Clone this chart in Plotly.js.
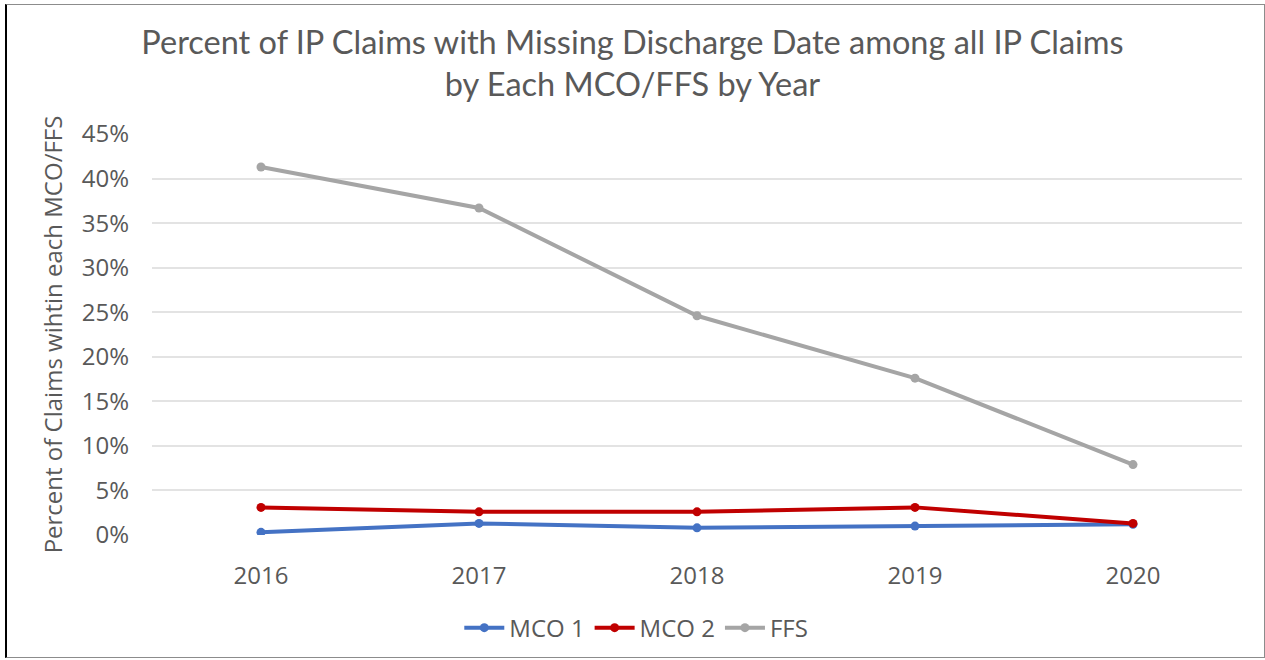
<!DOCTYPE html>
<html>
<head>
<meta charset="utf-8">
<script src="https://cdn.plot.ly/plotly-3.0.1.min.js"></script>
<style>
  html, body { margin: 0; padding: 0; background: #fff; }
  #chart { width: 1265px; height: 660px; }
  #frame {
    position: absolute; left: 5px; top: 4px; width: 1257px; height: 652px;
    border-top: 1px solid #8c8c8c; border-right: 1px solid #8c8c8c;
    border-bottom: 1px solid #8c8c8c; border-left: 2px solid #000;
    pointer-events: none;
  }
</style>
</head>
<body>
<div id="chart"></div>
<div id="frame"></div>
<script>
// Share of inpatient claims with a missing discharge date, by payer and year
const years = ['2016', '2017', '2018', '2019', '2020'];
const mco1 = [0.003, 0.013, 0.008, 0.010, 0.012];
const mco2 = [0.031, 0.026, 0.026, 0.031, 0.013];
const ffs  = [0.413, 0.367, 0.246, 0.176, 0.079];
const yTicks = [0, 0.05, 0.10, 0.15, 0.20, 0.25, 0.30, 0.35, 0.40, 0.45];

const textColor = '#595959';
const baseFont = 'Open Sans, DejaVu Sans, sans-serif';

function series(name, values, color) {
  return {
    type: 'scatter', mode: 'lines+markers', name: name,
    x: years, y: values,
    line: { color: color, width: 4 },
    marker: { color: color, size: 9 },
    hovertemplate: '%{x}: %{y:.1%}<extra>' + name + '</extra>'
  };
}

const data = [
  series('MCO 1', mco1, '#4472C4'),
  series('MCO 2', mco2, '#C00000'),
  series('FFS', ffs, '#A5A5A5')
];

const layout = {
  width: 1265, height: 660,
  paper_bgcolor: '#fff', plot_bgcolor: '#fff',
  margin: { l: 152, r: 23, t: 134, b: 125, autoexpand: false },
  title: {
    text: 'Percent of IP Claims with Missing Discharge Date among all IP Claims<br>by Each MCO/FFS by Year',
    font: { family: 'Lato, Open Sans, sans-serif', size: 32.5, color: textColor },
    x: 0.5, xanchor: 'center', xref: 'container',
    y: 1 - 54 / 660, yanchor: 'middle', yref: 'container'
  },
  font: { family: baseFont, color: textColor, size: 24 },
  xaxis: {
    type: 'category', range: [-0.5, 4.5],
    showgrid: false, zeroline: false, showline: false,
    ticks: '', ticklabelstandoff: 24,
    tickfont: { size: 24, color: textColor }
  },
  yaxis: {
    range: [0, 0.45], tickvals: yTicks, tickformat: '.0%',
    showgrid: true, gridcolor: '#e3e3e3', gridwidth: 1.5,
    zeroline: false, showline: false, ticks: '',
    ticklabelstandoff: 22,
    tickfont: { size: 24, color: textColor },
    title: { text: 'Percent of Claims wihtin each MCO/FFS', font: { size: 24, color: textColor }, standoff: 12 }
  },
  legend: {
    orientation: 'h', xref: 'container', x: 0.503, xanchor: 'center',
    y: -0.232, yanchor: 'middle', itemwidth: 40,
    font: { size: 24, color: textColor }, tracegroupgap: 0
  },
  showlegend: true
};

Plotly.newPlot('chart', data, layout, { displayModeBar: false });
</script>
</body>
</html>
